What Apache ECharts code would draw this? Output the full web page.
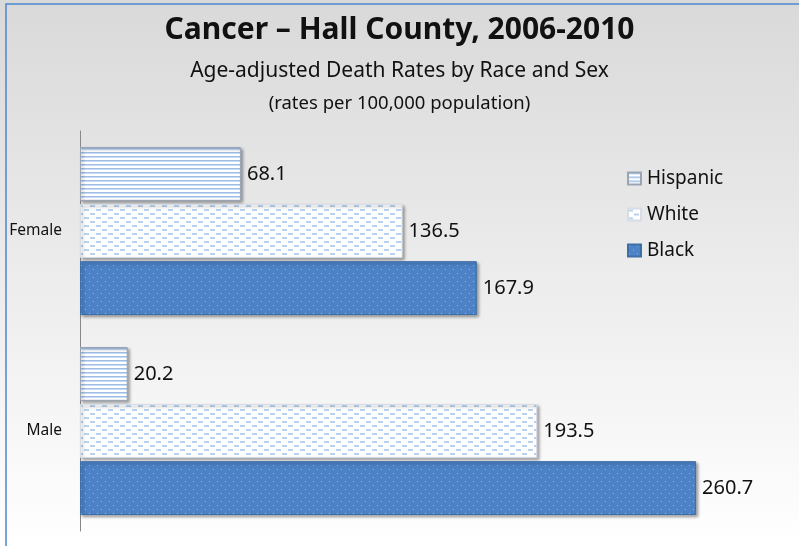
<!DOCTYPE html>
<html>
<head>
<meta charset="utf-8">
<script src="https://cdn.jsdelivr.net/npm/echarts@6/dist/echarts.min.js"></script>
<style>
  html, body { margin: 0; padding: 0; background: #fff; }
  #chart { width: 799px; height: 546px; }
</style>
</head>
<body>
<div id="chart"></div>
<script>
// Age-adjusted cancer death rates, Hall County 2006-2010
const categories = ['Female', 'Male'];
const seriesNames = ['Hispanic', 'White', 'Black'];
const hispanic = [68.1, 20.2];
const white = [136.5, 193.5];
const black = [167.9, 260.7];

// Fill textures for each bar style
function makePattern(w, h, draw) {
  const c = document.createElement('canvas');
  c.width = w; c.height = h;
  draw(c.getContext('2d'));
  return { image: c, repeat: 'repeat' };
}
const stripeFill = makePattern(4, 4, g => {
  g.fillStyle = '#ffffff'; g.fillRect(0, 0, 4, 4);
  g.fillStyle = '#9dbde6'; g.fillRect(0, 0, 4, 1);
  g.fillStyle = '#c9dcf3'; g.fillRect(0, 1, 4, 1);
});
const dashFill = makePattern(12, 8, g => {
  g.fillStyle = '#ffffff'; g.fillRect(0, 0, 12, 8);
  g.fillStyle = '#b9d1f0';
  g.fillRect(0, 1, 5, 2);
  g.fillRect(6, 5, 5, 2);
});
const dotFill = makePattern(8, 8, g => {
  g.fillStyle = '#4d82c6'; g.fillRect(0, 0, 8, 8);
  g.fillStyle = '#93b7e6';
  g.fillRect(1, 1, 1, 1);
  g.fillRect(5, 5, 1, 1);
});

const fills = [stripeFill, dashFill, dotFill];
const values = [hispanic, white, black];
const borders = ['#9aa5b4', '#d6dde6', '#3d6ea8'];

const chart = echarts.init(document.getElementById('chart'), null, { renderer: 'canvas' });

const fontFam = '"Noto Sans", "Open Sans", sans-serif';

chart.setOption({
  animation: false,
  backgroundColor: {
    type: 'linear', x: 0, y: 0, x2: 0, y2: 1,
    colorStops: [
      { offset: 0, color: '#d9d9d9' },
      { offset: 1, color: '#ffffff' }
    ]
  },
  graphic: [
    {
      type: 'rect',
      shape: { x: 6, y: 4, width: 810, height: 560 },
      style: { fill: 'none', stroke: '#4a86d0', lineWidth: 1.5 },
      silent: true
    }
  ],
  title: [
    {
      text: 'Cancer – Hall County, 2006-2010',
      left: 'center', top: 10,
      textStyle: { fontFamily: fontFam, fontSize: 30, fontWeight: 'bold', color: '#111' }
    },
    {
      text: 'Age-adjusted Death Rates by Race and Sex',
      left: 'center', top: 56,
      textStyle: { fontFamily: fontFam, fontSize: 21, fontWeight: 'normal', color: '#111' }
    },
    {
      text: '(rates per 100,000 population)',
      left: 'center', top: 89,
      textStyle: { fontFamily: fontFam, fontSize: 18.5, fontWeight: 'normal', color: '#111' }
    }
  ],
  legend: {
    orient: 'vertical',
    left: 622, top: 164,
    itemWidth: 13, itemHeight: 12,
    itemGap: 17,
    icon: 'rect',
    data: seriesNames,
    textStyle: { fontFamily: fontFam, fontSize: 19, color: '#111', padding: [0, 0, 0, 1] }
  },
  grid: { left: 80, top: 131, width: 709, height: 400, containLabel: false },
  xAxis: {
    type: 'value', min: 0, max: 300,
    show: false
  },
  yAxis: {
    type: 'category',
    data: categories,
    inverse: true,
    axisLine: { show: true, lineStyle: { color: '#888', width: 1 } },
    axisTick: { show: false },
    axisLabel: { fontFamily: fontFam, fontSize: 15.5, color: '#111', margin: 18 }
  },
  series: seriesNames.map((name, i) => ({
    name,
    type: 'bar',
    data: values[i],
    barGap: '6%',
    barCategoryGap: '16%',
    itemStyle: {
      color: fills[i],
      borderColor: borders[i],
      borderWidth: 1,
      shadowColor: 'rgba(0,0,0,0.35)',
      shadowBlur: 3,
      shadowOffsetX: 2,
      shadowOffsetY: 2
    },
    label: {
      show: true,
      position: 'right',
      distance: 6,
      fontFamily: fontFam,
      fontSize: 20,
      color: '#111',
      formatter: p => p.value.toFixed(1)
    }
  }))
});
</script>
</body>
</html>
